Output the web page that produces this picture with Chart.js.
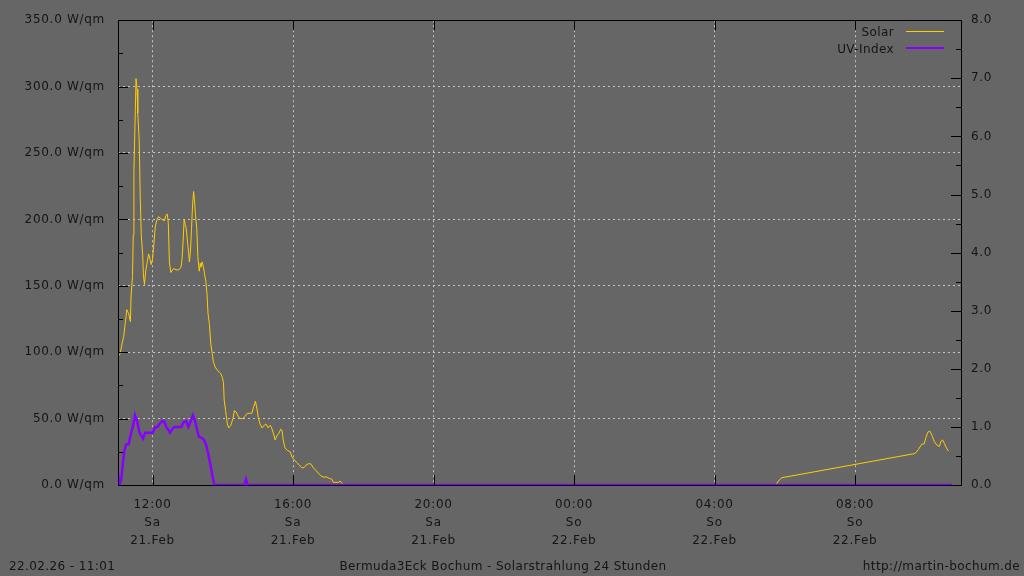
<!DOCTYPE html>
<html>
<head>
<meta charset="utf-8">
<script src="https://cdn.jsdelivr.net/npm/chart.js@4.4.1/dist/chart.umd.min.js"></script>
<style>
  html, body { margin: 0; padding: 0; background: #666666; }
  #wrap { position: relative; width: 1024px; height: 576px; overflow: hidden; font-family: "DejaVu Sans", sans-serif; color: #151515; }
  #wrap canvas { position: absolute; left: 0; top: 0; }
  .txt { position: absolute; font-size: 12px; line-height: 14px; white-space: nowrap; letter-spacing: 0.4px; }
  .leg { position: absolute; right: 130px; font-size: 12px; line-height: 14px; white-space: nowrap; letter-spacing: 0.4px; text-align: right; }
  .legline { position: absolute; left: 906px; width: 38px; }
</style>
</head>
<body>
<div id="wrap">
  <canvas id="chart" width="1024" height="576"></canvas>
  <div class="leg" style="top:25px;">Solar</div>
  <div class="legline" style="top:31px;height:1px;background:#ffcc00;"></div>
  <div class="leg" style="top:42px;">UV-Index</div>
  <div class="legline" style="top:47px;height:2px;background:#8800ff;"></div>
  <div class="txt" style="left:9px;top:559px;">22.02.26 - 11:01</div>
  <div class="txt" style="left:0;width:1006px;text-align:center;top:559px;">Bermuda3Eck Bochum - Solarstrahlung 24 Stunden</div>
  <div class="txt" style="right:4px;top:559px;">http://martin-bochum.de</div>
</div>
<script>
// --- Daten (Stunden ab 21.02. 00:00) ---
const solarHours = [
    11.02, 11.08, 11.13, 11.18, 11.22, 11.27, 11.32, 11.37, 11.39, 11.43,
    11.45, 11.47, 11.51, 11.53, 11.56, 11.58, 11.62, 11.65, 11.68, 11.72,
    11.74, 11.77, 11.81, 11.85, 11.89, 11.93, 11.96, 12.00, 12.04, 12.08,
    12.13, 12.17, 12.27, 12.34, 12.38, 12.42, 12.45, 12.48, 12.52, 12.60,
    12.67, 12.75, 12.81, 12.84, 12.87, 12.90, 12.93, 12.96, 13.00, 13.02,
    13.05, 13.08, 13.11, 13.14, 13.17, 13.19, 13.22, 13.26, 13.29, 13.33,
    13.36, 13.38, 13.41, 13.45, 13.48, 13.52, 13.55, 13.58, 13.62, 13.66,
    13.70, 13.73, 13.78, 13.83, 13.90, 13.94, 13.99, 14.02, 14.04, 14.08,
    14.13, 14.17, 14.23, 14.29, 14.33, 14.38, 14.43, 14.49, 14.57, 14.64,
    14.70, 14.78, 14.83, 14.87, 14.93, 14.97, 15.01, 15.06, 15.12, 15.18,
    15.23, 15.29, 15.35, 15.39, 15.44, 15.49, 15.54, 15.60, 15.65, 15.69,
    15.72, 15.77, 15.84, 15.92, 15.97, 16.03, 16.11, 16.18, 16.25, 16.31,
    16.37, 16.44, 16.50, 16.58, 16.65, 16.72, 16.79, 16.86, 16.96, 17.03,
    17.10, 17.15, 17.22, 17.29, 17.34, 17.39, 17.42, 29.74, 29.85, 29.92,
    33.71, 33.81, 33.90, 33.97, 34.02, 34.08, 34.13, 34.19, 34.25, 34.33,
    34.40, 34.44, 34.49, 34.55, 34.60, 34.66
];
const solarWatts = [
    97, 99, 106, 112, 121, 132, 129, 123, 143, 157,
    188, 236, 282, 306, 298, 280, 260, 217, 188, 173,
    158, 151, 162, 168, 174, 170, 166, 170, 182, 195,
    200, 202, 200, 199, 203, 204, 197, 168, 160, 163,
    162, 162, 164, 170, 183, 200, 196, 193, 182, 177,
    168, 176, 193, 211, 221, 216, 204, 193, 172, 161,
    167, 164, 168, 164, 159, 153, 144, 129, 121, 106,
    99, 93, 89, 87, 85, 84, 81, 77, 64, 56,
    46, 43, 45, 50, 56, 55, 52, 50, 50, 52,
    54, 54, 54, 58, 63, 58, 51, 46, 43, 45,
    46, 43, 45, 43, 39, 34, 37, 39, 42, 41,
    34, 28, 26, 25, 21, 19, 17, 15, 13, 13,
    15, 16, 16, 13, 11, 9, 7, 6, 6, 5,
    4.5, 2, 2, 2, 3, 1.5, 0, 0, 4, 5.5,
    23.7, 27, 30.7, 31, 36, 40, 40.6, 37.4, 33, 30,
    29, 32.4, 34, 31, 28, 25.6
];
const uvHours = [
    11.02, 11.06, 11.11, 11.16, 11.20, 11.25, 11.32, 11.39, 11.44, 11.50,
    11.56, 11.63, 11.73, 11.79, 11.89, 12.00, 12.08, 12.14, 12.20, 12.28,
    12.33, 12.39, 12.45, 12.50, 12.55, 12.62, 12.71, 12.82, 12.88, 12.96,
    13.02, 13.09, 13.15, 13.21, 13.26, 13.32, 13.40, 13.47, 13.53, 13.59,
    13.66, 13.72, 13.76, 14.61, 14.66, 14.71, 34.76
];
const uvIndex = [
    0.2, 0.0, 0.1, 0.4, 0.6, 0.7, 0.7, 0.9, 1.0, 1.2,
    1.1, 0.9, 0.8, 0.9, 0.9, 0.9, 1.0, 1.0, 1.05, 1.1,
    1.1, 1.0, 0.95, 0.9, 0.95, 1.0, 1.0, 1.0, 1.08, 1.1,
    1.0, 1.1, 1.2, 1.1, 0.97, 0.83, 0.81, 0.77, 0.68, 0.53,
    0.31, 0.11, 0, 0, 0.1, 0, 0
];
const xTickHours = [12, 16, 20, 24, 28, 32];
const xTickTime = ['12:00', '16:00', '20:00', '00:00', '04:00', '08:00'];
const xTickDay = ['Sa', 'Sa', 'Sa', 'So', 'So', 'So'];
const xTickDate = ['21.Feb', '21.Feb', '21.Feb', '22.Feb', '22.Feb', '22.Feb'];

const xMin = 11.017, xMax = 35.017;
const textColor = '#151515';
const gridColor = '#c4c4c4';
const font = { family: 'DejaVu Sans', size: 12 };

const zip = (xs, ys) => xs.map((x, i) => ({ x: x, y: ys[i] }));

// gnuplot-Schrift ist etwas breiter gesetzt
const spacingPlugin = {
    id: 'spacing',
    beforeLayout(chart) { chart.ctx.letterSpacing = '0.7px'; },
    beforeDraw(chart) { chart.ctx.letterSpacing = '0.7px'; }
};

// Rahmen + nach innen zeigende Ticks (gnuplot-Stil)
const framePlugin = {
    id: 'frame',
    afterDatasetsDraw(chart) {
        const c = chart.ctx, a = chart.chartArea;
        const sx = chart.scales.x, sy = chart.scales.y, sy2 = chart.scales.y2;
        c.save();
        c.strokeStyle = '#000';
        c.lineWidth = 1;
        c.setLineDash([]);
        c.beginPath();
        sy.ticks.forEach(t => {
            const p = Math.round(sy.getPixelForValue(t.value)) + 0.5;
            const len = t.value % 50 === 0 ? 10 : 5;
            c.moveTo(a.left, p); c.lineTo(a.left + len, p);
        });
        sy2.ticks.forEach(t => {
            const p = Math.round(sy2.getPixelForValue(t.value)) + 0.5;
            const len = Number.isInteger(t.value) ? 10 : 5;
            c.moveTo(a.right, p); c.lineTo(a.right - len, p);
        });
        xTickHours.forEach(h => {
            const p = Math.round(sx.getPixelForValue(h)) + 0.5;
            c.moveTo(p, a.bottom); c.lineTo(p, a.bottom - 10);
            c.moveTo(p, a.top); c.lineTo(p, a.top + 10);
        });
        c.stroke();
        c.strokeRect(Math.round(a.left) + 0.5, Math.round(a.top) + 0.5,
            Math.round(a.right - a.left), Math.round(a.bottom - a.top));
        c.restore();
    }
};

new Chart(document.getElementById('chart'), {
    type: 'line',
    data: {
        datasets: [
            {
                label: 'UV-Index',
                data: zip(uvHours, uvIndex),
                yAxisID: 'y2',
                borderColor: '#8800ff',
                borderWidth: 2.5,
                pointRadius: 0,
                tension: 0,
                order: 0
            },
            {
                label: 'Solar',
                data: zip(solarHours, solarWatts),
                yAxisID: 'y',
                borderColor: '#ffcc00',
                borderWidth: 1,
                pointRadius: 0,
                tension: 0,
                order: 1
            }
        ]
    },
    options: {
        responsive: false,
        animation: false,
        events: [],
        layout: { padding: { top: 17, left: 0, right: 0, bottom: 0 } },
        plugins: { legend: { display: false }, tooltip: { enabled: false } },
        scales: {
            x: {
                type: 'linear',
                min: xMin,
                max: xMax,
                afterBuildTicks: (scale) => { scale.ticks = xTickHours.map(v => ({ value: v })); },
                afterFit: (scale) => { scale.height = 91; },
                border: { display: false, dash: [2, 3] },
                grid: { color: gridColor, drawTicks: false, lineWidth: 1 },
                ticks: {
                    color: textColor,
                    font: { family: 'DejaVu Sans', size: 12, lineHeight: 1.5 },
                    padding: 11,
                    maxRotation: 0,
                    autoSkip: false,
                    callback: (v) => {
                        const i = xTickHours.indexOf(v);
                        return i < 0 ? '' : [xTickTime[i], xTickDay[i], xTickDate[i]];
                    }
                }
            },
            y: {
                position: 'left',
                min: 0,
                max: 350,
                afterFit: (scale) => { scale.width = 118; },
                border: { display: false, dash: [2, 3] },
                grid: {
                    drawTicks: false,
                    color: (ctx) => (ctx.tick && ctx.tick.value % 50 === 0 && ctx.tick.value > 0 && ctx.tick.value < 350) ? gridColor : 'rgba(0,0,0,0)'
                },
                ticks: {
                    stepSize: 25,
                    color: textColor,
                    font: font,
                    padding: 13,
                    autoSkip: false,
                    callback: (v) => v % 50 === 0 ? v.toFixed(1) + ' W/qm' : ''
                }
            },
            y2: {
                position: 'right',
                min: 0,
                max: 8,
                afterFit: (scale) => { scale.width = 63; },
                border: { display: false },
                grid: { display: false, drawTicks: false },
                ticks: {
                    stepSize: 0.5,
                    color: textColor,
                    font: font,
                    padding: 10,
                    autoSkip: false,
                    callback: (v) => Number.isInteger(v) ? v.toFixed(1) : ''
                }
            }
        }
    },
    plugins: [spacingPlugin, framePlugin]
});
</script>
</body>
</html>
